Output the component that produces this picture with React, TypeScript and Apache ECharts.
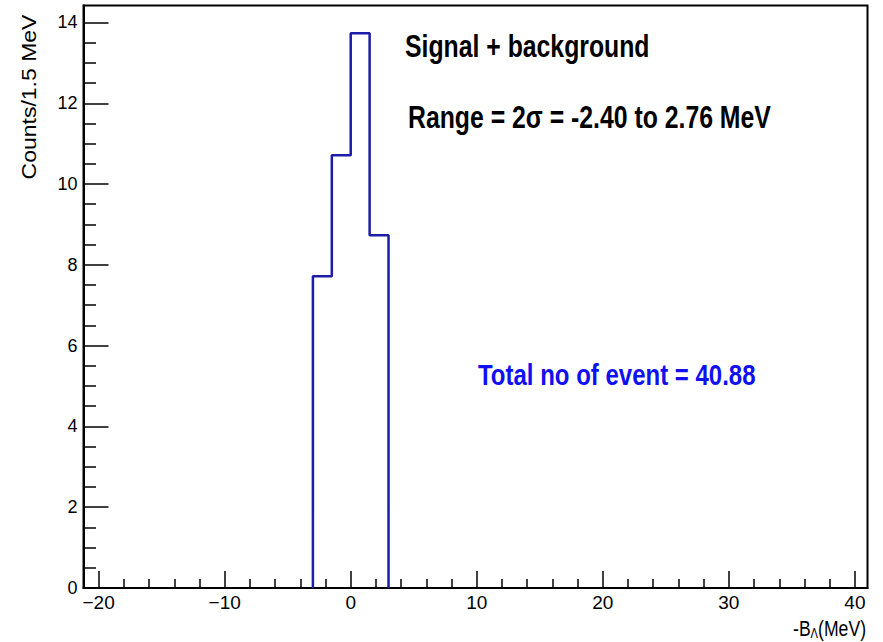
import React, { useEffect, useRef } from "react";
import * as echarts from "echarts";

// Histogram data (bins of 1.5 MeV)
const binStart = -3;
const binWidth = 1.5;
const counts = [7.72, 10.71, 13.73, 8.73];

// Axis ticks
const xMajorTicks = [-20, -10, 0, 10, 20, 30, 40];
const xMinorTicks = [-18, -16, -14, -12, -8, -6, -4, -2, 2, 4, 6, 8, 12, 14, 16, 18, 22, 24, 26, 28, 32, 34, 36, 38];
const yMajorTicks = [0, 2, 4, 6, 8, 10, 12, 14];
const yMinorTicks = [0.5, 1, 1.5, 2.5, 3, 3.5, 4.5, 5, 5.5, 6.5, 7, 7.5, 8.5, 9, 9.5, 10.5, 11, 11.5, 12.5, 13, 13.5];

// Texts
const yTitle = "Counts/1.5 MeV";
const line1 = "Signal + background";
const line2 = "Range = 2\u03C3 = -2.40 to 2.76 MeV";
const line3 = "Total no of event = 40.88";

const FONT = "'Liberation Sans', Arial, sans-serif";
const CONDENSE = 0.8;

function stepPoints(): number[][] {
  const pts: number[][] = [];
  pts.push([binStart, 0]);
  counts.forEach((c, i) => {
    const lo = binStart + i * binWidth;
    const hi = lo + binWidth;
    pts.push([lo, c]);
    pts.push([hi, c]);
  });
  pts.push([binStart + counts.length * binWidth, 0]);
  return pts;
}

export default function App() {
  const ref = useRef<HTMLDivElement>(null);
  useEffect(() => {
    if (!ref.current) return;
    const chart = echarts.init(ref.current, null, { renderer: "svg" });
    const xMin = -21.2;
    const xMax = 41;
    const yMin = 0;
    const yMax = 14.42;
    const fmtMinus = (v: number) => String(v).replace("-", "\u2212");
    chart.setOption({
      animation: false,
      backgroundColor: "#ffffff",
      grid: {
        left: 83.5,
        right: 15.5,
        top: 5.5,
        bottom: 54,
        show: true,
        borderColor: "#000",
        borderWidth: 2,
      },
      xAxis: [
        {
          type: "value",
          min: xMin,
          max: xMax,
          position: "bottom",
          axisLine: { show: true, onZero: false, lineStyle: { color: "#000", width: 2 } },
          axisTick: {
            show: true,
            inside: true,
            length: 17,
            customValues: xMajorTicks,
            lineStyle: { color: "#000", width: 1.5 },
          },
          axisLabel: {
            customValues: xMajorTicks,
            formatter: fmtMinus,
            color: "#000",
            fontSize: 19,
            fontFamily: FONT,
            margin: 5,
          },
          splitLine: { show: false },
        },
        {
          type: "value",
          min: xMin,
          max: xMax,
          position: "bottom",
          axisLine: { show: false, onZero: false },
          axisTick: {
            show: true,
            inside: true,
            length: 9,
            customValues: xMinorTicks,
            lineStyle: { color: "#000", width: 1.5 },
          },
          axisLabel: { show: false },
          splitLine: { show: false },
        },
      ],
      yAxis: [
        {
          type: "value",
          min: yMin,
          max: yMax,
          position: "left",
          axisLine: { show: true, onZero: false, lineStyle: { color: "#000", width: 2 } },
          axisTick: {
            show: true,
            inside: true,
            length: 25,
            customValues: yMajorTicks,
            lineStyle: { color: "#000", width: 1.5 },
          },
          axisLabel: {
            customValues: yMajorTicks,
            color: "#000",
            fontSize: 18,
            fontFamily: FONT,
            margin: 6,
          },
          splitLine: { show: false },
        },
        {
          type: "value",
          min: yMin,
          max: yMax,
          position: "left",
          axisLine: { show: false, onZero: false },
          axisTick: {
            show: true,
            inside: true,
            length: 12.5,
            customValues: yMinorTicks,
            lineStyle: { color: "#000", width: 1.5 },
          },
          axisLabel: { show: false },
          splitLine: { show: false },
        },
      ],
      series: [
        {
          type: "line",
          xAxisIndex: 0,
          yAxisIndex: 0,
          data: stepPoints(),
          symbol: "none",
          lineStyle: { color: "#1c1ca8", width: 2.5 },
          silent: true,
        },
      ],
      graphic: [
        {
          type: "text",
          x: 30,
          y: 97,
          rotation: Math.PI / 2,
          scaleY: 0.85,
          style: {
            text: yTitle,
            fill: "#000",
            font: `23px ${FONT}`,
            align: "center",
            verticalAlign: "middle",
          },
        },
        {
          type: "text",
          x: 866,
          y: 628,
          scaleX: CONDENSE,
          style: {
            text: "{a|-B}{s|\u039B}{a|(MeV)}",
            align: "right",
            verticalAlign: "middle",
            rich: {
              a: { fontSize: 22, fontFamily: FONT, fill: "#000", color: "#000" },
              s: { fontSize: 14, fontFamily: FONT, fill: "#000", color: "#000", padding: [12, 0, 0, 0] },
            },
          },
        },
        {
          type: "text",
          x: 405,
          y: 47,
          scaleX: CONDENSE,
          style: {
            text: line1,
            fill: "#000",
            font: `bold 31px ${FONT}`,
            align: "left",
            verticalAlign: "middle",
          },
        },
        {
          type: "text",
          x: 408,
          y: 118,
          scaleX: CONDENSE,
          style: {
            text: line2,
            fill: "#000",
            font: `bold 31px ${FONT}`,
            align: "left",
            verticalAlign: "middle",
          },
        },
        {
          type: "text",
          x: 478,
          y: 375,
          scaleX: CONDENSE,
          style: {
            text: line3,
            fill: "#1010f0",
            font: `bold 30px ${FONT}`,
            align: "left",
            verticalAlign: "middle",
          },
        },
      ],
    });
    return () => chart.dispose();
  }, []);
  return (
    <div
      ref={ref}
      style={{ position: "fixed", left: 0, top: 0, width: 883, height: 642 }}
    />
  );
}
